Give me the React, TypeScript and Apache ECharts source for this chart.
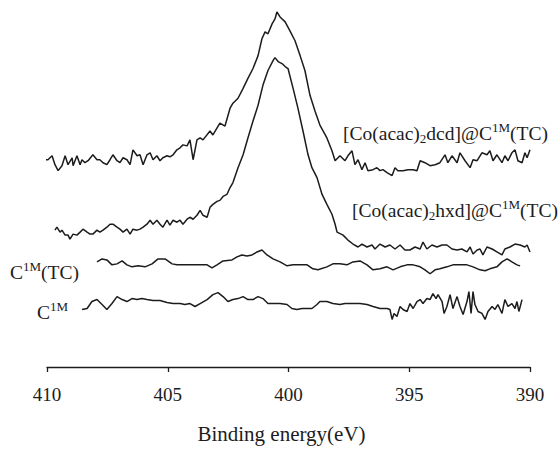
import React, { useEffect, useRef } from "react";
import * as echarts from "echarts";

// x axis: binding energy (eV), reversed; y: arbitrary intensity units (offset traces)
const xTicks = [410, 405, 400, 395, 390];
const xName = "Binding energy(eV)";

const dcdData: [number, number][] = [
  [410.12, 210], [409.96, 210], [409.79, 214], [409.67, 205], [409.54, 199], [409.38, 204], [409.25, 214],
  [409.13, 205], [408.96, 212], [408.92, 204], [408.76, 214], [408.63, 205], [408.55, 210], [408.43, 207],
  [408.3, 209], [408.1, 215], [407.93, 210], [407.81, 210], [407.68, 207], [407.52, 205], [407.39, 210],
  [407.27, 215], [407.1, 209], [406.98, 207], [406.85, 212], [406.69, 210], [406.56, 205], [406.44, 220],
  [406.27, 214], [406.15, 215], [406.02, 205], [405.86, 215], [405.73, 217], [405.61, 210], [405.45, 214],
  [405.32, 209], [405.2, 212], [405.03, 214], [404.91, 213], [404.78, 215], [404.62, 220], [404.49, 222],
  [404.37, 225], [404.2, 224], [404.08, 230], [403.95, 210], [403.79, 230], [403.66, 232], [403.54, 230],
  [403.25, 239], [403.13, 235], [402.84, 247], [402.63, 244], [402.42, 262], [402.3, 267], [402.09, 272],
  [401.88, 282], [401.68, 292], [401.47, 302], [401.26, 315], [401.1, 332], [400.97, 339], [400.85, 337],
  [400.68, 347], [400.56, 352], [400.48, 359], [400.35, 354], [400.14, 349], [399.94, 340], [399.73, 330],
  [399.52, 315], [399.32, 300], [399.11, 275], [398.9, 259], [398.7, 245], [398.41, 232], [398.2, 219],
  [398.07, 209], [397.87, 214], [397.66, 209], [397.54, 214], [397.37, 219], [397.25, 205], [397.12, 210],
  [396.96, 200], [396.83, 207], [396.71, 199], [396.5, 200], [396.34, 202], [396.21, 199], [396.09, 200],
  [395.92, 197], [395.71, 194], [395.59, 202], [395.47, 199], [395.26, 199], [395.05, 200], [394.84, 200],
  [394.68, 199], [394.55, 209], [394.35, 207], [394.14, 204], [393.93, 205], [393.73, 207], [393.52, 215],
  [393.4, 207], [393.23, 214], [393.02, 207], [392.9, 217], [392.69, 209], [392.48, 202], [392.36, 210],
  [392.19, 209], [391.99, 217], [391.78, 215], [391.66, 219], [391.53, 209], [391.37, 215], [391.16, 207],
  [391.04, 214], [390.91, 209], [390.75, 217], [390.62, 220], [390.5, 209], [390.33, 207], [390.21, 217],
  [390.12, 212], [390.0, 220],
];

const hxdData: [number, number][] = [
  [409.67, 139], [409.59, 142], [409.46, 137], [409.38, 139], [409.25, 134], [409.13, 134], [409.05, 130],
  [408.92, 135], [408.76, 134], [408.63, 137], [408.51, 140], [408.34, 137], [408.22, 135], [408.1, 135],
  [407.93, 139], [407.81, 137], [407.68, 139], [407.52, 142], [407.39, 145], [407.27, 145], [407.1, 142],
  [406.98, 140], [406.85, 137], [406.69, 140], [406.56, 135], [406.44, 140], [406.27, 139], [406.15, 140],
  [406.02, 142], [405.86, 145], [405.73, 149], [405.61, 145], [405.45, 149], [405.32, 145], [405.2, 142],
  [405.03, 149], [404.91, 144], [404.78, 149], [404.62, 147], [404.49, 149], [404.37, 145], [404.2, 150],
  [404.08, 152], [403.95, 150], [403.79, 154], [403.66, 159], [403.54, 154], [403.37, 152], [403.25, 162],
  [403.13, 165], [402.96, 168], [402.84, 169], [402.71, 173], [402.55, 175], [402.42, 182], [402.3, 187],
  [402.09, 202], [401.88, 215], [401.68, 232], [401.47, 249], [401.26, 265], [401.06, 285], [400.85, 300],
  [400.64, 310], [400.56, 313], [400.43, 309], [400.27, 307], [400.14, 304], [400.02, 302], [399.81, 282],
  [399.61, 262], [399.4, 239], [399.19, 215], [399.03, 202], [398.82, 192], [398.61, 175], [398.41, 165],
  [398.2, 155], [398.07, 145], [397.99, 137], [397.74, 134], [397.54, 129], [397.33, 125], [397.12, 122],
  [396.96, 125], [396.75, 122], [396.54, 124], [396.42, 120], [396.21, 125], [396.0, 122], [395.8, 124],
  [395.59, 120], [395.38, 124], [395.18, 119], [394.97, 119], [394.76, 122], [394.55, 120], [394.43, 127],
  [394.27, 120], [394.06, 124], [393.85, 122], [393.64, 124], [393.44, 124], [393.23, 120], [393.02, 119],
  [392.82, 120], [392.61, 117], [392.48, 122], [392.36, 115], [392.19, 119], [392.07, 120], [391.95, 114],
  [391.78, 122], [391.57, 120], [391.37, 117], [391.16, 114], [391.04, 120], [390.83, 122], [390.62, 125],
  [390.41, 124], [390.21, 122], [390.12, 124], [390.0, 117],
];

const c1mTcData: [number, number][] = [
  [407.93, 107], [407.72, 110], [407.52, 109], [407.31, 104], [407.1, 105], [406.89, 108], [406.69, 104],
  [406.48, 102], [406.23, 103], [405.94, 102], [405.65, 105], [405.4, 110], [405.11, 110], [404.82, 105],
  [404.62, 104], [403.95, 104], [403.37, 104], [403.17, 101], [402.96, 104], [402.71, 108], [402.34, 109],
  [402.13, 112], [401.93, 114], [401.72, 113], [401.51, 114], [401.3, 117], [401.1, 119], [400.89, 114],
  [400.64, 110], [400.35, 107], [400.06, 103], [399.81, 104], [399.52, 104], [399.23, 104], [398.99, 100],
  [398.78, 99], [398.41, 102], [398.16, 105], [397.87, 105], [397.58, 104], [397.33, 107], [397.04, 108],
  [396.75, 104], [396.5, 99], [396.21, 100], [395.92, 102], [395.67, 99], [395.38, 102], [395.09, 104],
  [394.84, 104], [394.55, 102], [394.35, 99], [394.14, 95], [393.93, 99], [393.73, 100], [393.44, 102],
  [393.19, 104], [392.9, 104], [392.61, 104], [392.36, 102], [392.07, 99], [391.86, 98], [391.66, 100],
  [391.37, 102], [391.16, 107], [390.95, 110], [390.75, 107], [390.54, 104], [390.41, 103],
];

const c1mData: [number, number][] = [
  [408.55, 59], [408.34, 60], [408.14, 67], [407.93, 69], [407.72, 64], [407.52, 59], [407.31, 65],
  [407.1, 72], [406.89, 69], [406.69, 67], [406.48, 70], [406.27, 69], [406.07, 70], [405.86, 69],
  [405.61, 68], [405.32, 68], [405.03, 66], [404.78, 65], [404.49, 65], [404.29, 64], [404.08, 65],
  [403.87, 62], [403.66, 65], [403.37, 69], [403.13, 74], [402.92, 76], [402.71, 72], [402.51, 67],
  [402.3, 69], [402.09, 70], [401.88, 72], [401.68, 69], [401.47, 69], [401.26, 72], [401.06, 70],
  [400.85, 65], [400.64, 65], [400.35, 65], [400.06, 64], [399.86, 60], [399.65, 59], [399.44, 60],
  [399.23, 60], [399.03, 60], [398.82, 64], [398.7, 67], [398.41, 67], [398.16, 65], [397.87, 64],
  [397.66, 65], [397.45, 65], [397.25, 65], [397.04, 65], [396.75, 64], [396.5, 62], [396.21, 60],
  [395.92, 60], [395.8, 59], [395.71, 49], [395.63, 55], [395.51, 52], [395.38, 62], [395.26, 59],
  [395.09, 57], [394.97, 65], [394.84, 60], [394.68, 67], [394.55, 69], [394.43, 65], [394.27, 70],
  [394.14, 69], [394.02, 75], [393.89, 70], [393.81, 74], [393.64, 67], [393.56, 55], [393.44, 62],
  [393.31, 74], [393.19, 60], [393.02, 72], [392.9, 62], [392.77, 54], [392.61, 67], [392.53, 77],
  [392.44, 55], [392.36, 77], [392.28, 64], [392.15, 57], [391.99, 55], [391.86, 49], [391.74, 57],
  [391.57, 62], [391.45, 59], [391.33, 64], [391.16, 55], [391.04, 69], [390.91, 62], [390.75, 65],
  [390.62, 60], [390.54, 67], [390.46, 57], [390.33, 69],
];

const seriesNames = ["[Co(acac)2dcd]@C1M(TC)", "[Co(acac)2hxd]@C1M(TC)", "C1M(TC)", "C1M"];

const FONT = "'Liberation Serif', 'Times New Roman', serif";
const INK = "#1c1c1c";

export default function App() {
  const ref = useRef<HTMLDivElement>(null);
  useEffect(() => {
    const chart = echarts.init(ref.current!, null, { renderer: "svg" });
    const rich = {
      a: { fontSize: 19.5, fontFamily: FONT, fill: INK, lineHeight: 24 },
      sub: { fontSize: 13, fontFamily: FONT, fill: INK, lineHeight: 13, verticalAlign: "bottom" },
      sup: { fontSize: 13, fontFamily: FONT, fill: INK, lineHeight: 13, verticalAlign: "top" },
    };
    const mkLabel = (x: number, y: number, text: string) => ({
      type: "text",
      x,
      y,
      silent: true,
      style: { text, rich, fill: INK, font: `19.5px ${FONT}`, align: "left", verticalAlign: "middle" },
    });
    const line = (name: string, data: [number, number][]) => ({
      name,
      type: "line",
      data,
      showSymbol: false,
      symbol: "none",
      clip: false,
      lineStyle: { color: INK, width: 1.5 },
    });
    chart.setOption({
      animation: false,
      backgroundColor: "#ffffff",
      grid: { left: 47, right: 30, top: 10, bottom: 79, containLabel: false },
      xAxis: {
        type: "value",
        min: 390,
        max: 410,
        interval: 5,
        inverse: true,
        name: xName,
        nameLocation: "middle",
        nameGap: 56,
        nameTextStyle: { fontFamily: FONT, fontSize: 21, color: INK, padding: [0, 14, 0, 0] },
        axisLine: { show: true, lineStyle: { color: INK, width: 1.3 } },
        axisTick: { show: true, inside: false, length: 5, lineStyle: { color: INK, width: 1.3 } },
        axisLabel: {
          margin: 18,
          fontFamily: FONT,
          fontSize: 19,
          color: INK,
          customValues: xTicks,
        },
        splitLine: { show: false },
      },
      yAxis: {
        type: "value",
        min: 1,
        max: 361,
        show: false,
        splitLine: { show: false },
      },
      series: [
        line(seriesNames[0], dcdData),
        line(seriesNames[1], hxdData),
        line(seriesNames[2], c1mTcData),
        line(seriesNames[3], c1mData),
      ],
      graphic: [
        mkLabel(343, 133, "{a|[Co(acac)}{sub|2}{a|dcd]@C}{sup|1M}{a|(TC)}"),
        mkLabel(352, 210, "{a|[Co(acac)}{sub|2}{a|hxd]@C}{sup|1M}{a|(TC)}"),
        mkLabel(10, 272, "{a|C}{sup|1M}{a|(TC)}"),
        mkLabel(37, 312, "{a|C}{sup|1M}"),
      ],
    });
    return () => chart.dispose();
  }, []);
  return (
    <div
      ref={ref}
      style={{ position: "fixed", left: 0, top: 0, width: 560, height: 449, background: "#fff" }}
    />
  );
}
